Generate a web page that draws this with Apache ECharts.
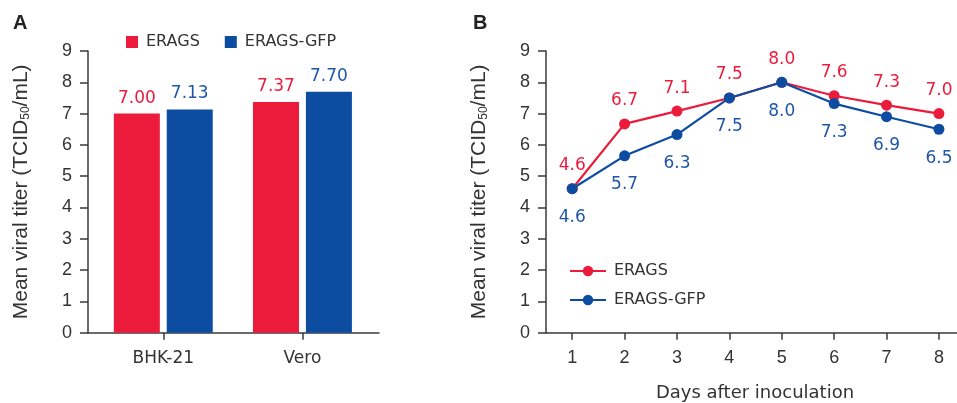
<!DOCTYPE html>
<html>
<head>
<meta charset="utf-8">
<script src="https://cdn.jsdelivr.net/npm/echarts@6/dist/echarts.min.js"></script>
<style>
html,body{margin:0;padding:0;background:#fff;}
#chart{width:957px;height:403px;}
</style>
</head>
<body>
<div id="chart"></div>
<script>
// ---- Data ----
var cellLines = ['BHK-21', 'Vero'];
var cellPos = [1, 2];
var barERAGS = [7.00, 7.37];
var barERAGSGFP = [7.13, 7.70];

var days = [1, 2, 3, 4, 5, 6, 7, 8];
var lineERAGS = [4.6, 6.67, 7.08, 7.5, 8.0, 7.57, 7.27, 7.0];
var lineERAGSGFP = [4.6, 5.65, 6.33, 7.5, 8.0, 7.32, 6.9, 6.5];

var yTicks = [0, 1, 2, 3, 4, 5, 6, 7, 8, 9];

// ---- Styles ----
var RED = '#ED1B3B';
var BLUE = '#0D4DA1';
var TXT = '#333333';
var AX = '#3a3a3a';
var NUM_FONT = 'Liberation Sans';
var TXT_FONT = 'DejaVu Sans';

function pairs(xs, ys) { return xs.map(function (x, i) { return [x, ys[i]]; }); }

var yName = 'Mean viral titer (TCID{sub|50}/mL)';
function yAxisCfg(gridIndex) {
  return {
    gridIndex: gridIndex, type: 'value', min: yTicks[0], max: yTicks[yTicks.length - 1], interval: 1,
    name: yName, nameLocation: 'middle', nameGap: 56,
    nameTextStyle: {
      fontFamily: NUM_FONT, fontSize: 21, color: TXT,
      rich: { sub: { fontFamily: NUM_FONT, fontSize: 12, color: TXT, verticalAlign: 'bottom' } }
    },
    axisLine: { show: true, lineStyle: { color: AX, width: 1.5 } },
    axisTick: { show: true, length: 8, lineStyle: { color: AX, width: 1.5 } },
    axisLabel: { fontFamily: NUM_FONT, fontSize: 18, color: TXT, margin: 16 },
    splitLine: { show: false }
  };
}

var chart = echarts.init(document.getElementById('chart'), null, { renderer: 'canvas' });
chart.setOption({
  animation: false,
  backgroundColor: '#ffffff',
  title: [
    { text: 'A', left: 13, top: 13, padding: 0, textStyle: { fontFamily: NUM_FONT, fontWeight: 'bold', fontSize: 20, color: '#222' } },
    { text: 'B', left: 473, top: 13, padding: 0, textStyle: { fontFamily: NUM_FONT, fontWeight: 'bold', fontSize: 20, color: '#222' } }
  ],
  legend: [
    {
      data: ['ERAGS', 'ERAGS-GFP'], orient: 'horizontal', left: 126, top: 34, padding: 0,
      icon: 'rect', itemWidth: 12, itemHeight: 12, itemGap: 25,
      textStyle: { fontFamily: TXT_FONT, fontSize: 16, color: TXT, padding: [0, 0, 0, 3] },
      selectedMode: false
    },
    {
      data: ['ERAGS ', 'ERAGS-GFP '], orient: 'vertical', left: 569, top: 263, padding: 0,
      itemWidth: 36, itemHeight: 13, itemGap: 13,
      textStyle: { fontFamily: TXT_FONT, fontSize: 16, color: TXT, padding: [0, 0, 0, 3] },
      selectedMode: false
    }
  ],
  grid: [
    { left: 88, top: 51, width: 291, height: 281.7, containLabel: false, outerBoundsMode: 'none' },
    { left: 546, top: 51, width: 411, height: 281.7, containLabel: false, outerBoundsMode: 'none' }
  ],
  xAxis: [
    {
      gridIndex: 0, type: 'value', min: 0.459, max: 2.55,
      axisLine: { show: true, onZero: false, lineStyle: { color: AX, width: 1.5 } },
      axisTick: { show: true, length: 7, customValues: cellPos, lineStyle: { color: AX, width: 1.5 } },
      axisLabel: {
        customValues: cellPos, fontFamily: TXT_FONT, fontSize: 17, color: TXT, margin: 17,
        formatter: function (v) { var i = cellPos.indexOf(Math.round(v)); return i >= 0 ? cellLines[i] : ''; }
      },
      splitLine: { show: false }
    },
    {
      gridIndex: 1, type: 'value', min: 0.5, max: 8.345,
      name: 'Days after inoculation', nameLocation: 'middle', nameGap: 52,
      nameTextStyle: { fontFamily: TXT_FONT, fontSize: 18, color: TXT, padding: [0, 0, 0, 7] },
      axisLine: { show: true, onZero: false, lineStyle: { color: AX, width: 1.5 } },
      axisTick: { show: true, length: 7, customValues: days, lineStyle: { color: AX, width: 1.5 } },
      axisLabel: { customValues: days, fontFamily: NUM_FONT, fontSize: 18, color: TXT, margin: 16 },
      splitLine: { show: false }
    }
  ],
  yAxis: [yAxisCfg(0), yAxisCfg(1)],
  series: [
    {
      name: 'ERAGS', type: 'bar', xAxisIndex: 0, yAxisIndex: 0,
      data: pairs(cellPos, barERAGS), barWidth: 46, barGap: '15%',
      itemStyle: { color: RED },
      label: { show: true, position: 'top', distance: 7, fontFamily: TXT_FONT, fontSize: 17, color: RED,
        formatter: function (p) { return p.value[1].toFixed(2); } }
    },
    {
      name: 'ERAGS-GFP', type: 'bar', xAxisIndex: 0, yAxisIndex: 0,
      data: pairs(cellPos, barERAGSGFP), barWidth: 46, barGap: '15%',
      itemStyle: { color: BLUE },
      label: { show: true, position: 'top', distance: 7, fontFamily: TXT_FONT, fontSize: 17, color: '#1F56A8',
        formatter: function (p) { return p.value[1].toFixed(2); } }
    },
    {
      name: 'ERAGS ', type: 'line', xAxisIndex: 1, yAxisIndex: 1,
      data: pairs(days, lineERAGS), symbol: 'circle', symbolSize: 11,
      lineStyle: { color: RED, width: 2.2 }, itemStyle: { color: RED },
      label: { show: true, position: 'top', distance: 9, fontFamily: TXT_FONT, fontSize: 17, color: RED,
        formatter: function (p) { return p.value[1].toFixed(1); } },
      z: 2
    },
    {
      name: 'ERAGS-GFP ', type: 'line', xAxisIndex: 1, yAxisIndex: 1,
      data: pairs(days, lineERAGSGFP), symbol: 'circle', symbolSize: 11,
      lineStyle: { color: BLUE, width: 2.2 }, itemStyle: { color: BLUE },
      label: { show: true, position: 'bottom', distance: 15, fontFamily: TXT_FONT, fontSize: 17, color: '#1F56A8',
        formatter: function (p) { return p.value[1].toFixed(1); } },
      z: 3
    }
  ]
});
</script>
</body>
</html>
